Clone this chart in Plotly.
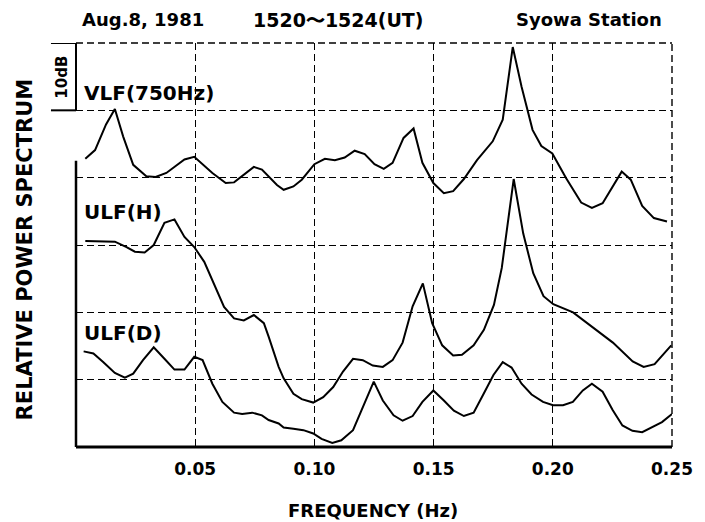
import plotly.graph_objects as go

# ---- data (frequency in Hz, relative power in dB; 10 dB per grid division) ----
vlf_freq = [0.0039, 0.0080, 0.0126, 0.0163, 0.0198, 0.0240, 0.0295, 0.0334, 0.0379, 0.0455,
            0.0496, 0.0572, 0.0628, 0.0663, 0.0746, 0.0780, 0.0843, 0.0871, 0.0912, 0.0947,
            0.1000, 0.1044, 0.1086, 0.1127, 0.1169, 0.1211, 0.1252, 0.1291, 0.1328, 0.1374,
            0.1416, 0.1453, 0.1499, 0.1543, 0.1582, 0.1627, 0.1682, 0.1748, 0.1790, 0.1832,
            0.1869, 0.1915, 0.1952, 0.1998, 0.2056, 0.2119, 0.2164, 0.2209, 0.2289, 0.2327,
            0.2375, 0.2424, 0.2479]
vlf_db = [42.8, 44.1, 47.9, 50.2, 46.1, 41.9, 40.2, 40.1, 40.7, 42.7,
          43.1, 40.7, 39.2, 39.3, 41.6, 41.2, 38.9, 38.2, 38.7, 39.7,
          42.0, 42.8, 42.6, 43.0, 44.0, 43.5, 42.0, 41.3, 42.2, 45.9,
          47.3, 42.2, 39.2, 37.7, 38.0, 39.8, 42.6, 45.4, 48.6, 59.4,
          53.5, 47.1, 44.7, 43.6, 39.9, 36.3, 35.5, 36.2, 40.9, 39.7,
          35.8, 34.0, 33.5]

ulfh_freq = [0.0039, 0.0163, 0.0212, 0.0247, 0.0288, 0.0326, 0.0371, 0.0413, 0.0455, 0.0496,
             0.0538, 0.0580, 0.0621, 0.0663, 0.0704, 0.0746, 0.0788, 0.0808, 0.0850, 0.0871,
             0.0912, 0.0947, 0.0995, 0.1037, 0.1079, 0.1120, 0.1162, 0.1203, 0.1245, 0.1287,
             0.1328, 0.1370, 0.1412, 0.1455, 0.1494, 0.1536, 0.1582, 0.1619, 0.1668, 0.1711,
             0.1753, 0.1786, 0.1836, 0.1876, 0.1918, 0.1961, 0.2002, 0.2085, 0.2160, 0.2252,
             0.2335, 0.2381, 0.2427, 0.2497]
ulfh_db = [30.6, 30.5, 29.7, 29.0, 28.9, 30.0, 33.3, 33.8, 31.2, 29.7,
           27.5, 24.1, 20.8, 19.1, 18.8, 19.6, 18.4, 16.4, 11.9, 10.2,
           7.9, 7.1, 6.6, 7.4, 8.9, 11.2, 13.1, 12.9, 12.1, 11.9,
           12.9, 15.5, 20.9, 24.3, 18.4, 15.1, 13.6, 13.7, 15.1, 17.4,
           21.1, 26.6, 39.8, 31.7, 25.8, 22.4, 21.2, 20.0, 18.0, 15.5,
           12.7, 11.9, 12.3, 15.1]

ulfd_freq = [0.0032, 0.0073, 0.0115, 0.0163, 0.0205, 0.0240, 0.0281, 0.0326, 0.0371, 0.0413,
             0.0455, 0.0496, 0.0531, 0.0572, 0.0614, 0.0663, 0.0697, 0.0739, 0.0780, 0.0808,
             0.0850, 0.0871, 0.0912, 0.0954, 0.0995, 0.1030, 0.1075, 0.1113, 0.1162, 0.1203,
             0.1249, 0.1287, 0.1332, 0.1370, 0.1412, 0.1453, 0.1499, 0.1543, 0.1585, 0.1627,
             0.1668, 0.1710, 0.1751, 0.1790, 0.1827, 0.1869, 0.1911, 0.1959, 0.2001, 0.2043,
             0.2084, 0.2126, 0.2164, 0.2209, 0.2251, 0.2292, 0.2334, 0.2375, 0.2417, 0.2458,
             0.2500]
ulfd_db = [14.2, 13.9, 12.6, 11.0, 10.3, 10.9, 12.9, 14.8, 13.1, 11.5,
           11.5, 13.4, 12.9, 9.4, 6.7, 5.1, 4.9, 5.1, 4.7, 4.0,
           3.5, 2.9, 2.7, 2.5, 2.0, 1.2, 0.6, 1.0, 2.5, 5.9,
           9.7, 6.9, 4.7, 3.9, 4.6, 6.7, 8.4, 6.9, 5.4, 4.6,
           5.1, 7.9, 10.7, 12.6, 11.8, 9.4, 7.8, 6.7, 6.2, 6.2,
           6.7, 8.4, 9.4, 8.2, 5.5, 3.2, 2.4, 2.2, 2.9, 3.7,
           4.9]

x_ticks = [0.05, 0.10, 0.15, 0.20, 0.25]
x_tick_labels = ["0.05", "0.10", "0.15", "0.20", "0.25"]
y_grid = [10, 20, 30, 40, 50, 60]

series = [("VLF(750Hz)", vlf_freq, vlf_db),
          ("ULF(H)", ulfh_freq, ulfh_db),
          ("ULF(D)", ulfd_freq, ulfd_db)]

FONT = "DejaVu Sans"
DASH = "7px,4px"
fig = go.Figure()
for name, fx, fy in series:
    fig.add_trace(go.Scatter(x=fx, y=fy, mode="lines", name=name,
                             line=dict(color="black", width=2), showlegend=False))

fig.update_layout(
    width=705, height=522,
    margin=dict(l=76, r=28, t=43, b=75),
    paper_bgcolor="white", plot_bgcolor="white",
    font=dict(family=FONT, color="black"),
)
fig.update_xaxes(range=[0, 0.25], tickvals=x_ticks, ticktext=x_tick_labels,
                 showgrid=True, gridcolor="black", griddash=DASH, gridwidth=1.4,
                 showline=False, zeroline=False, ticks="", ticklabelstandoff=10,
                 tickfont=dict(family=FONT, size=17, weight="bold"))
fig.update_yaxes(range=[0, 60], tickvals=y_grid, showticklabels=False,
                 showgrid=True, gridcolor="black", griddash=DASH, gridwidth=1.4,
                 showline=False, zeroline=False, ticks="")

# border lines: top/right dashed, left axis solid (with 10 dB scale), bottom solid
shapes = [
    dict(type="line", xref="paper", yref="paper", x0=0, x1=1, y0=1, y1=1,
         line=dict(color="black", width=1.4, dash=DASH)),
    dict(type="line", xref="paper", yref="paper", x0=1, x1=1, y0=0, y1=1,
         line=dict(color="black", width=1.4, dash=DASH)),
    dict(type="line", xref="paper", yref="paper", x0=0, x1=1, y0=0, y1=0,
         line=dict(color="black", width=3)),
    dict(type="line", xref="paper", yref="y", x0=0, x1=0, y0=0, y1=42.5,
         line=dict(color="black", width=2.5)),
    dict(type="line", xref="paper", yref="y", x0=0, x1=0, y0=50, y1=60,
         line=dict(color="black", width=2)),
    dict(type="line", xref="paper", yref="y", x0=-0.042, x1=0, y0=60, y1=60,
         line=dict(color="black", width=2)),
    dict(type="line", xref="paper", yref="y", x0=-0.042, x1=0, y0=50, y1=50,
         line=dict(color="black", width=2)),
]
fig.update_layout(shapes=shapes)

ann = []
def add(text, x, y, xanchor="left", size=18, angle=0, bold=True):
    ann.append(dict(text=text, x=x, y=y, xref="paper", yref="paper", showarrow=False,
                    xanchor=xanchor, yanchor="middle", textangle=angle,
                    font=dict(family=FONT, size=size, color="black",
                              weight="bold" if bold else "normal")))

add("Aug.8, 1981", 0.006, 1.058, "left", 18)
add("1520〜1524(UT)", 0.44, 1.058, "center", 19)
add("Syowa Station", 0.986, 1.058, "right", 18)
add("VLF(750Hz)", 0.010, 0.877, "left", 20)
add("ULF(H)", 0.010, 0.582, "left", 20)
add("ULF(D)", 0.010, 0.282, "left", 20)
add("10dB", -0.023, 0.915, "center", 15, -90)
add("RELATIVE POWER SPECTRUM", -0.085, 0.49, "center", 21, -90)
add("FREQUENCY (Hz)", 0.498, -0.157, "center", 18)
fig.update_layout(annotations=ann)

fig.write_html("out.html")
